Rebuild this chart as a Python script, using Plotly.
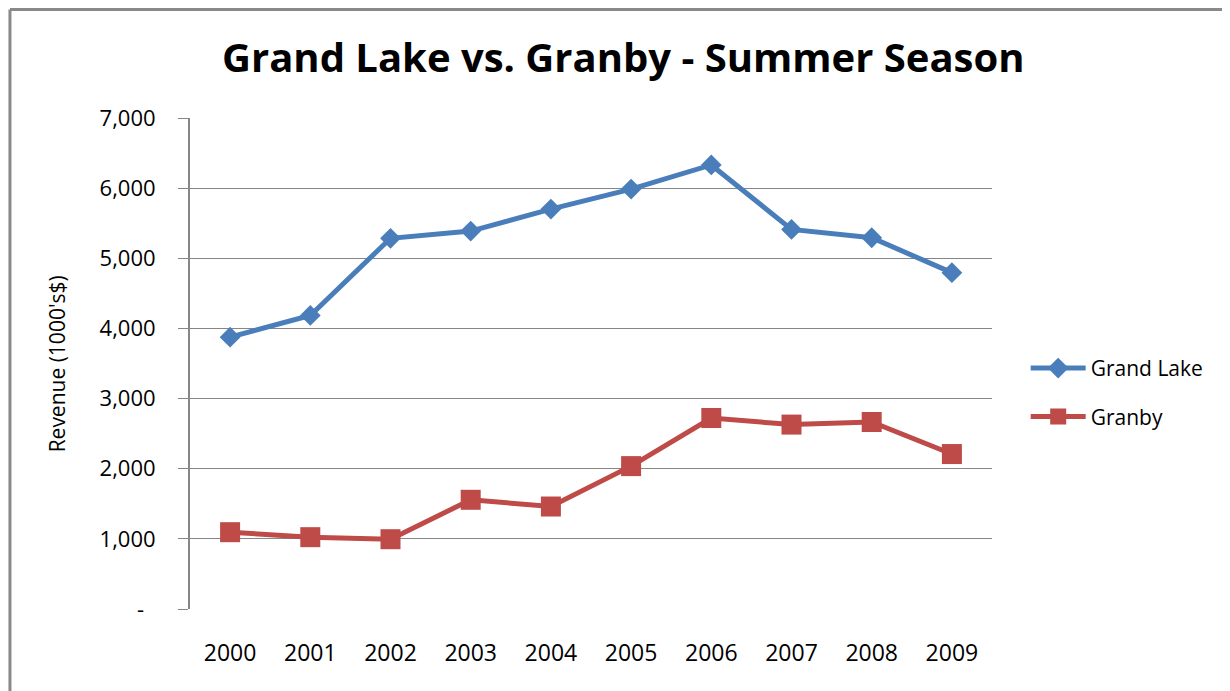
import plotly.graph_objects as go


# ============================================================
# Data
# ============================================================

years = ["2000", "2001", "2002", "2003", "2004",
         "2005", "2006", "2007", "2008", "2009"]

grand_lake = [3876, 4185, 5285, 5388, 5701, 5986, 6331, 5412, 5293, 4795]
granby = [1095, 1024, 995, 1557, 1461, 2037, 2723, 2629, 2666, 2209]

y_tickvals = [0, 1000, 2000, 3000, 4000, 5000, 6000, 7000]
y_ticktext = ["-\u00a0\u00a0", "1,000", "2,000", "3,000",
              "4,000", "5,000", "6,000", "7,000"]

FONT = "Open Sans"
GRID = "#868686"

# ============================================================
# Figure
# ============================================================

fig = go.Figure()

fig.add_trace(
    go.Scatter(
        x=years,
        y=grand_lake,
        mode="lines+markers",
        name="Grand Lake",
        legendgroup="a",
        line=dict(color="#4A7EBB", width=5),
        marker=dict(symbol="diamond", size=16, color="#4A7EBB")
    )
)

fig.add_trace(
    go.Scatter(
        x=years,
        y=granby,
        mode="lines+markers",
        name="Granby",
        legendgroup="b",
        line=dict(color="#BE4B48", width=5),
        marker=dict(symbol="square", size=20, color="#BE4B48")
    )
)

# ------------------------------------------------------------
# Y axis title
# ------------------------------------------------------------

fig.add_annotation(
    x=-0.166,
    y=0.5,
    xref="paper",
    yref="paper",
    xanchor="center",
    yanchor="middle",
    text="Revenue (1000's$)",
    textangle=-90,
    showarrow=False,
    font=dict(family=FONT, size=21, color="black")
)

# ------------------------------------------------------------
# Chart border (left and top edges)
# ------------------------------------------------------------

fig.add_shape(type="line", xref="paper", yref="paper",
              x0=-0.2245, x1=-0.2245, y0=1.221, y1=-0.2,
              line=dict(color="#898989", width=3))
fig.add_shape(type="line", xref="paper", yref="paper",
              x0=-0.2245, x1=1.35, y0=1.221, y1=1.221,
              line=dict(color="#898989", width=3))

# ------------------------------------------------------------
# Layout
# ------------------------------------------------------------

# the page adds an 8px body margin, so the figure is 8px smaller
fig.update_layout(
    width=1222,
    height=683,
    margin=dict(l=182, r=238, t=110, b=82),
    paper_bgcolor="white",
    plot_bgcolor="white",
    font=dict(family=FONT, color="black"),
    title=dict(
        text="<b>Grand Lake vs. Granby - Summer Season</b>",
        x=0.5035,
        xanchor="center",
        y=0.927,
        yanchor="middle",
        font=dict(family=FONT, size=40, color="black")
    ),
    showlegend=True,
    legend=dict(
        x=1.042,
        y=0.441,
        xanchor="left",
        yanchor="middle",
        font=dict(family=FONT, size=21, color="black"),
        traceorder="grouped",
        tracegroupgap=18,
        itemwidth=55,
        bgcolor="rgba(0,0,0,0)"
    )
)

fig.update_xaxes(
    type="category",
    range=[-0.5, 9.5],
    showgrid=False,
    showline=False,
    zeroline=False,
    ticks="",
    tickfont=dict(family=FONT, size=23),
    ticklabelstandoff=28
)

fig.update_yaxes(
    range=[0, 7000],
    tickvals=y_tickvals,
    ticktext=y_ticktext,
    showgrid=True,
    gridcolor=GRID,
    gridwidth=1,
    showline=True,
    linecolor=GRID,
    linewidth=2,
    zeroline=False,
    ticks="outside",
    ticklen=10,
    tickcolor=GRID,
    tickwidth=1,
    tickfont=dict(family=FONT, size=22),
    ticklabelstandoff=18
)

fig.write_html("out.html")
